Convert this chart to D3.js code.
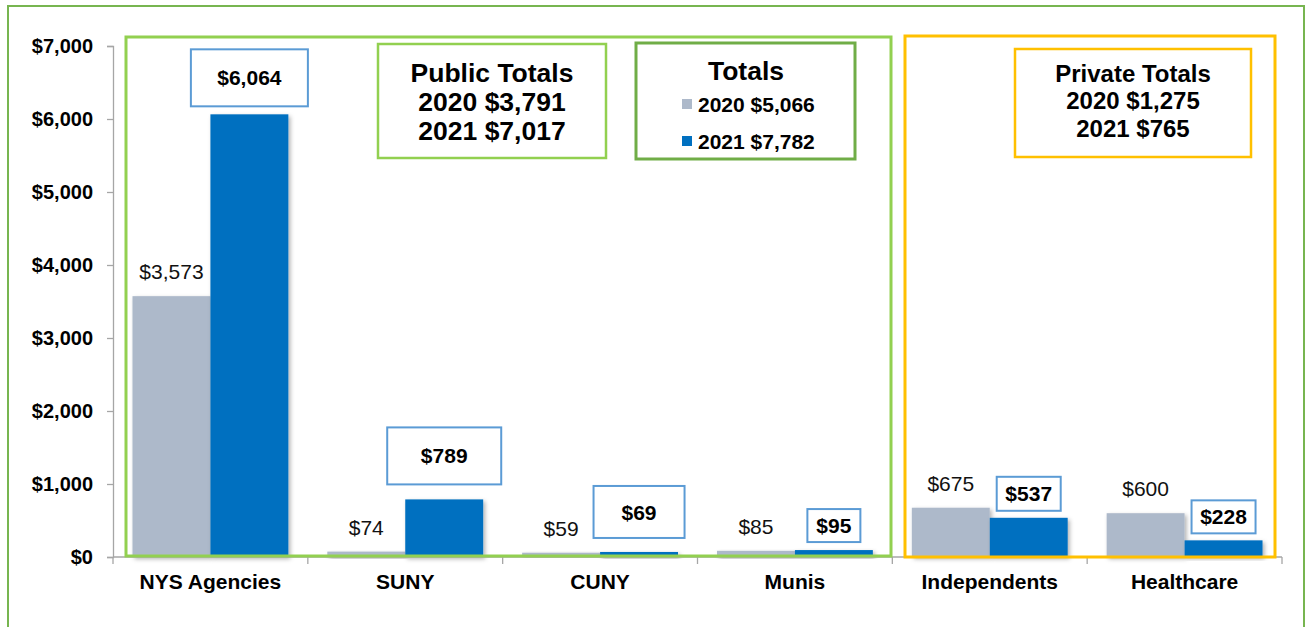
<!DOCTYPE html>
<html><head><meta charset="utf-8">
<script src="https://cdn.jsdelivr.net/npm/d3@7"></script>
<style>
html,body{margin:0;padding:0;background:#fff;}
svg{display:block;font-family:"Liberation Sans",Arial,sans-serif;}
</style></head>
<body>
<svg id="chart" width="1311" height="627"></svg>
<script>
// ---- data ----
const categories = ["NYS Agencies","SUNY","CUNY","Munis","Independents","Healthcare"];
const values2020 = [3573, 74, 59, 85, 675, 600];
const values2021 = [6064, 789, 69, 95, 537, 228];
const seriesNames = ["2020","2021"];
const yTicks = [0,1000,2000,3000,4000,5000,6000,7000];
const publicTotals = ["Public Totals","2020 $3,791","2021 $7,017"];
const privateTotals = ["Private Totals","2020 $1,275","2021 $765"];
const legendTitle = "Totals";
const legendLabels = ["2020 $5,066","2021 $7,782"];

// ---- styles ----
const colors = {"2020":"#ADB9CA","2021":"#0070C0"};
const boxStyle = [
  {w:117,h:57,gap:8},{w:114,h:57,gap:15},{w:91,h:52,gap:14},
  {w:53,h:33,gap:8},{w:64,h:34,gap:7},{w:64,h:33,gap:7}
];

const svg = d3.select("#chart");
const defs = svg.append("defs");
const f = defs.append("filter").attr("id","shadow").attr("x","-20%").attr("y","-20%").attr("width","140%").attr("height","140%");
f.append("feDropShadow").attr("dx",2).attr("dy",2).attr("stdDeviation",2).attr("flood-color","#000").attr("flood-opacity",0.3);

// outer frame
svg.append("rect").attr("x",8).attr("y",6).attr("width",1296).attr("height",640)
  .attr("fill","none").attr("stroke","#77B550").attr("stroke-width",2);

const x0 = 113, x1 = 1282, yTop = 46, yBot = 557;
const x = d3.scaleBand().domain(categories).range([x0,x1]).paddingInner(0.2).paddingOuter(0.1);
const xs = d3.scaleBand().domain(seriesNames).range([0,x.bandwidth()]).padding(0);
const y = d3.scaleLinear().domain([0,7000]).range([yBot,yTop]);
const fmt = d=>"$"+d3.format(",")(d);

const data = categories.map((c,i)=>({cat:c, i, v:{"2020":values2020[i],"2021":values2021[i]}}));

// bars
const g = svg.append("g");
data.forEach(d=>{
  seriesNames.forEach(s=>{
    g.append("rect")
      .attr("x", x(d.cat)+xs(s))
      .attr("y", y(d.v[s]))
      .attr("width", xs.bandwidth())
      .attr("height", yBot - y(d.v[s]))
      .attr("fill", colors[s])
      .attr("filter","url(#shadow)");
  });
});

// axes
const yAxis = d3.axisLeft(y).tickValues(yTicks).tickSize(6).tickPadding(14).tickFormat(fmt);
const ya = svg.append("g").attr("transform",`translate(${x0},0)`).call(yAxis);
ya.selectAll("path,line").attr("stroke","#A6A6A6").attr("stroke-width",1.3);
ya.selectAll("text").attr("font-size",20).attr("font-weight","bold").attr("fill","#000")
  .attr("font-family","'Liberation Sans',Arial,sans-serif");

const xAxis = d3.axisBottom(x).tickSize(0).tickPadding(17);
const xa = svg.append("g").attr("transform",`translate(0,${yBot})`).call(xAxis);
xa.select("path").attr("stroke","#A6A6A6").attr("stroke-width",1.3).attr("d",`M${x0},0H${x1}`);
xa.selectAll("text").attr("font-size",21).attr("font-weight","bold").attr("fill","#000")
  .attr("font-family","'Liberation Sans',Arial,sans-serif");
const step = x.step();
const bounds = d3.range(categories.length+1).map(k=> x0 + k*step);
xa.selectAll(".bt").data(bounds).join("line").attr("class","bt")
  .attr("x1",d=>d).attr("x2",d=>d).attr("y1",0).attr("y2",7)
  .attr("stroke","#A6A6A6").attr("stroke-width",1.3);

// region frames
svg.append("rect").attr("x",126).attr("y",37).attr("width",891-126).attr("height",yBot-1-37)
  .attr("fill","none").attr("stroke","#92D050").attr("stroke-width",3);
svg.append("rect").attr("x",905).attr("y",36).attr("width",1275-905).attr("height",yBot-36)
  .attr("fill","none").attr("stroke","#FFC000").attr("stroke-width",3);

// 2020 labels
data.forEach(d=>{
  svg.append("text")
    .attr("x", x(d.cat)+xs("2020")+xs.bandwidth()/2)
    .attr("y", y(d.v["2020"]) - 17)
    .attr("text-anchor","middle").attr("font-size",21).attr("fill","#111")
    .text(fmt(d.v["2020"]));
});
// 2021 labels in boxes
data.forEach(d=>{
  const b = boxStyle[d.i];
  const cx = x(d.cat)+xs("2021")+xs.bandwidth()/2;
  const bottom = y(d.v["2021"]) - b.gap;
  svg.append("rect").attr("x",cx-b.w/2).attr("y",bottom-b.h).attr("width",b.w).attr("height",b.h)
    .attr("fill","#fff").attr("stroke","#5B9BD5").attr("stroke-width",2);
  svg.append("text").attr("x",cx).attr("y",bottom-b.h/2).attr("dy","0.36em")
    .attr("text-anchor","middle").attr("font-size",21).attr("font-weight","bold").attr("fill","#000")
    .text(fmt(d.v["2021"]));
});

// Public totals box
svg.append("rect").attr("x",378).attr("y",44).attr("width",228).attr("height",114)
  .attr("fill","#fff").attr("stroke","#92D050").attr("stroke-width",2.5);
publicTotals.forEach((t,i)=>{
  svg.append("text").attr("x",492).attr("y",72+i*29).attr("dy","0.36em")
    .attr("text-anchor","middle").attr("font-size",26.5).attr("font-weight","bold").text(t);
});

// Legend box
svg.append("rect").attr("x",636).attr("y",43).attr("width",219).attr("height",116)
  .attr("fill","#fff").attr("stroke","#70AD47").attr("stroke-width",3);
svg.append("text").attr("x",746).attr("y",70).attr("dy","0.36em").attr("text-anchor","middle")
  .attr("font-size",26.5).attr("font-weight","bold").text(legendTitle);
seriesNames.forEach((s,i)=>{
  const yy = 104 + i*37;
  svg.append("rect").attr("x",682).attr("y",yy-5).attr("width",10).attr("height",10).attr("fill",colors[s]);
  svg.append("text").attr("x",698).attr("y",yy).attr("dy","0.36em").attr("font-size",21)
    .attr("font-weight","bold").text(legendLabels[i]);
});

// Private totals box
svg.append("rect").attr("x",1015).attr("y",49).attr("width",236).attr("height",108)
  .attr("fill","#fff").attr("stroke","#FFC000").attr("stroke-width",2.5);
privateTotals.forEach((t,i)=>{
  svg.append("text").attr("x",1133).attr("y",73+i*27.5).attr("dy","0.36em")
    .attr("text-anchor","middle").attr("font-size",24).attr("font-weight","bold").text(t);
});
</script>
</body></html>
